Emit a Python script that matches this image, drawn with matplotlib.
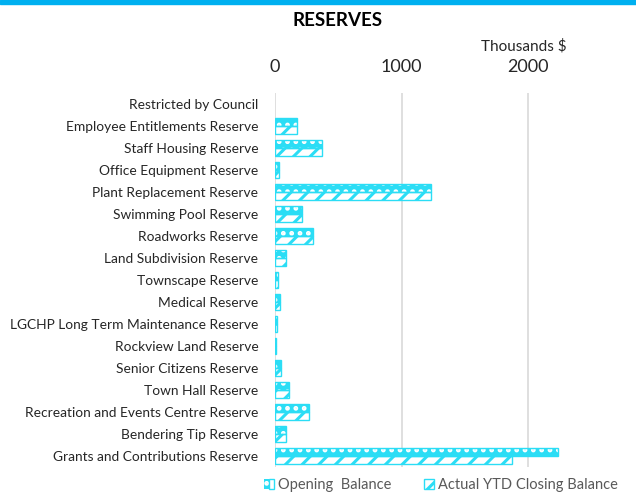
import matplotlib
matplotlib.use("Agg")
import matplotlib.pyplot as plt
from matplotlib.patches import Patch, Rectangle
from matplotlib.legend_handler import HandlerTuple
import numpy as np

# Reserve names, top to bottom as shown
reserves = [
    "Restricted by Council",
    "Employee Entitlements Reserve",
    "Staff Housing Reserve",
    "Office Equipment Reserve",
    "Plant Replacement Reserve",
    "Swimming Pool Reserve",
    "Roadworks Reserve",
    "Land Subdivision Reserve",
    "Townscape Reserve",
    "Medical Reserve",
    "LGCHP Long Term Maintenance Reserve",
    "Rockview Land Reserve",
    "Senior Citizens Reserve",
    "Town Hall Reserve",
    "Recreation and Events Centre Reserve",
    "Bendering Tip Reserve",
    "Grants and Contributions Reserve",
]
# values in thousands of dollars
opening_balance = [0, 172, 368, 32, 1232, 213, 298, 90, 20, 36, 16, 8, 46, 110, 270, 85, 2235]
closing_balance = [0, 172, 368, 32, 1232, 213, 298, 90, 20, 36, 16, 8, 46, 110, 270, 85, 1875]
x_ticks = [0, 1000, 2000]

CYAN = "#2BDDF5"
TEXT = "#262626"

plt.rcParams["font.family"] = ["Lato", "DejaVu Sans"]
plt.rcParams["hatch.linewidth"] = 2.2

fig = plt.figure(figsize=(6.36, 4.95), dpi=100)
ax = fig.add_axes([275 / 636, 1 - 467 / 495, 300 / 636, 374 / 495])

y = np.arange(len(reserves))
h = 0.36
# no outline on empty bars, otherwise a stray line shows at zero
open_edges = [CYAN if v > 0 else "none" for v in opening_balance]
close_edges = [CYAN if v > 0 else "none" for v in closing_balance]

# opening balance: cyan fill with white dots
ax.barh(y - h / 2, opening_balance, height=h, color=CYAN, edgecolor="white",
        hatch="..", linewidth=0, zorder=3)
ax.barh(y - h / 2, opening_balance, height=h, fill=False, edgecolor=open_edges,
        linewidth=1.0, zorder=4)
# closing balance: white fill with wide cyan diagonal stripes
ax.barh(y + h / 2, closing_balance, height=h, color="white", edgecolor=close_edges,
        hatch="//", linewidth=1.0, zorder=3)

ax.set_ylim(len(reserves) - 0.5, -0.5)
ax.set_xlim(0, 2370)
ax.set_yticks(y)
ax.set_yticklabels(reserves, fontsize=9.9, color=TEXT)
ax.set_xticks(x_ticks)
ax.set_xticklabels([str(t) for t in x_ticks], fontsize=13, color=TEXT)
ax.xaxis.tick_top()
ax.tick_params(axis="both", length=0)
ax.tick_params(axis="x", pad=13)
ax.tick_params(axis="y", pad=12)
ax.grid(axis="x", color="#D9D9D9", linewidth=1.2, zorder=0)
for s in ax.spines.values():
    s.set_visible(False)

fig.text(338 / 636, 1 - 20 / 495, "RESERVES", fontsize=13.5, fontweight="bold",
         ha="center", va="center", color="black")
fig.text(567 / 636, 1 - 46 / 495, "Thousands $", fontsize=11, ha="right",
         va="center", color=TEXT)

# top accent band
fig.patches.append(Rectangle((0, 1 - 4 / 495), 1, 4 / 495, transform=fig.transFigure,
                             color="#00B0F0", zorder=10))

# legend swatches: dotted fill + cyan outline stacked for the opening balance
open_handle = (Patch(facecolor=CYAN, edgecolor="white", hatch="..", linewidth=0),
               Patch(fill=False, edgecolor=CYAN, linewidth=1.0))
close_handle = Patch(facecolor="white", edgecolor=CYAN, hatch="//", linewidth=1.0)
fig.legend([open_handle, close_handle], ["Opening  Balance", "Actual YTD Closing Balance"],
           handler_map={tuple: HandlerTuple(ndivide=None, pad=0)},
           loc="center", bbox_to_anchor=(441 / 636, 1 - 485 / 495),
           ncol=2, frameon=False, fontsize=10.5, labelcolor="#595959",
           handlelength=0.7, handleheight=0.7, handletextpad=0.3, columnspacing=2.2)

fig.savefig("out.png", dpi=100)
